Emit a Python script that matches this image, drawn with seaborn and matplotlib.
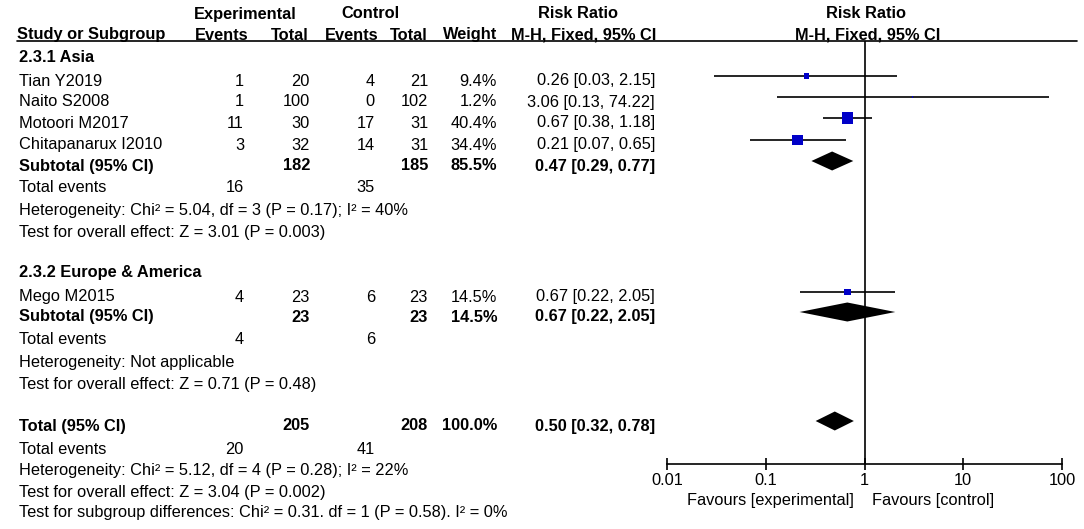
import numpy as np
import pandas as pd
import matplotlib
matplotlib.use('Agg')
import matplotlib.pyplot as plt
import seaborn as sns

# Study level data
studies = ['Tian Y2019', 'Naito S2008', 'Motoori M2017', 'Chitapanarux I2010', 'Mego M2015']
exp_events = [1, 1, 11, 3, 4]
exp_total = [20, 100, 30, 32, 23]
ctrl_events = [4, 0, 17, 14, 6]
ctrl_total = [21, 102, 31, 31, 23]
weight = [9.4, 1.2, 40.4, 34.4, 14.5]
rr = [0.26, 3.06, 0.67, 0.21, 0.67]
rr_lo = [0.03, 0.13, 0.38, 0.07, 0.22]
rr_hi = [2.15, 74.22, 1.18, 0.65, 2.05]

# Pooled results: Asia subtotal, Europe & America subtotal, overall total
subgroup_titles = ['2.3.1 Asia', '2.3.2 Europe & America']
pool_names = ['Subtotal (95% CI)', 'Subtotal (95% CI)', 'Total (95% CI)']
pool_exp_total = [182, 23, 205]
pool_ctrl_total = [185, 23, 208]
pool_weight = [85.5, 14.5, 100.0]
pool_rr = [0.47, 0.67, 0.50]
pool_lo = [0.29, 0.22, 0.32]
pool_hi = [0.77, 2.05, 0.78]
pool_exp_events = [16, 4, 20]
pool_ctrl_events = [35, 6, 41]
heterogeneity = ['Heterogeneity: Chi² = 5.04, df = 3 (P = 0.17); I² = 40%',
                 'Heterogeneity: Not applicable',
                 'Heterogeneity: Chi² = 5.12, df = 4 (P = 0.28); I² = 22%']
overall_effect = ['Test for overall effect: Z = 3.01 (P = 0.003)',
                  'Test for overall effect: Z = 0.71 (P = 0.48)',
                  'Test for overall effect: Z = 3.04 (P = 0.002)']
subgroup_test = 'Test for subgroup differences: Chi² = 0.31. df = 1 (P = 0.58). I² = 0%'

axis_ticks = [0.01, 0.1, 1, 10, 100]
axis_labels = ['0.01', '0.1', '1', '10', '100']

# Row layout (pixel rows of the table)
title_y = [57, 273]
study_y = [81, 102, 123, 145, 297]
pool_y = [166, 317, 426]
events_y = [188, 340, 449]
het_y = [211, 363, 471]
eff_y = [232, 384, 492]
subgroup_y = 513
mark_shift = 5

# Column x positions (right edge of each column)
x_name = 19
x_exp_e, x_exp_t, x_ctl_e, x_ctl_t, x_w, x_rr = 244, 310, 375, 428, 497, 655

sns.set_theme(style='white')
plt.rcParams['font.family'] = ['Liberation Sans', 'DejaVu Sans']
fs = 11.8

fig = plt.figure(figsize=(10.84, 5.29), dpi=100)
bg = fig.add_axes([0, 0, 1, 1])
bg.set_xlim(0, 1084)
bg.set_ylim(529, 0)
bg.axis('off')


def txt(x, y, s, ha='left', bold=False):
    bg.text(x, y, s, ha=ha, va='center', fontsize=fs, color='black',
            fontweight='bold' if bold else 'normal')


# Headers
txt(245, 14, 'Experimental', ha='center', bold=True)
txt(370, 14, 'Control', ha='center', bold=True)
txt(578, 14, 'Risk Ratio', ha='center', bold=True)
txt(866, 14, 'Risk Ratio', ha='center', bold=True)
txt(17, 35, 'Study or Subgroup', bold=True)
txt(248, 35, 'Events', ha='right', bold=True)
txt(309, 35, 'Total', ha='right', bold=True)
txt(378, 35, 'Events', ha='right', bold=True)
txt(428, 35, 'Total', ha='right', bold=True)
txt(497, 35, 'Weight', ha='right', bold=True)
txt(656, 35, 'M-H, Fixed, 95% CI', ha='right', bold=True)
txt(868, 35, 'M-H, Fixed, 95% CI', ha='center', bold=True)
bg.plot([17, 1077], [41, 41], color='black', lw=1.2)

# Subgroup titles
for t, y in zip(subgroup_titles, title_y):
    txt(x_name, y, t, bold=True)

# Study rows
for i, name in enumerate(studies):
    y = study_y[i]
    txt(x_name, y, name)
    txt(x_exp_e, y, str(exp_events[i]), ha='right')
    txt(x_exp_t, y, str(exp_total[i]), ha='right')
    txt(x_ctl_e, y, str(ctrl_events[i]), ha='right')
    txt(x_ctl_t, y, str(ctrl_total[i]), ha='right')
    txt(x_w, y, '%.1f%%' % weight[i], ha='right')
    txt(x_rr, y, '%.2f [%.2f, %.2f]' % (rr[i], rr_lo[i], rr_hi[i]), ha='right')

# Pooled rows
for i, name in enumerate(pool_names):
    y = pool_y[i]
    txt(x_name, y, name, bold=True)
    txt(x_exp_t, y, str(pool_exp_total[i]), ha='right', bold=True)
    txt(x_ctl_t, y, str(pool_ctrl_total[i]), ha='right', bold=True)
    txt(x_w, y, '%.1f%%' % pool_weight[i], ha='right', bold=True)
    txt(x_rr, y, '%.2f [%.2f, %.2f]' % (pool_rr[i], pool_lo[i], pool_hi[i]), ha='right', bold=True)
    txt(x_name, events_y[i], 'Total events')
    txt(x_exp_e, events_y[i], str(pool_exp_events[i]), ha='right')
    txt(x_ctl_e, events_y[i], str(pool_ctrl_events[i]), ha='right')
    txt(x_name, het_y[i], heterogeneity[i])
    txt(x_name, eff_y[i], overall_effect[i])
txt(x_name, subgroup_y, subgroup_test)

# Forest plot panel
ax = fig.add_axes([667 / 1084, 65 / 529, 395 / 1084, 423 / 529])
ax.patch.set_visible(False)
ax.set_xscale('log')
ax.set_xlim(0.01, 100)
ax.set_ylim(464, 41)

ys = [y - mark_shift for y in study_y]
ax.hlines(ys, rr_lo, rr_hi, color='black', lw=1.2, zorder=2)
df = pd.DataFrame({'rr': rr, 'y': ys, 'weight': weight})
k = 1.6  # marker area (pt^2) per percent weight
sns.scatterplot(data=df, x='rr', y='y', size='weight',
                sizes=(k * min(weight), k * max(weight)),
                marker='s', color='#0000C8', edgecolor='none',
                legend=False, ax=ax, zorder=3)

# Diamonds for pooled estimates
dh = 19
for i in range(len(pool_rr)):
    y = pool_y[i] - mark_shift
    ax.fill([pool_lo[i], pool_rr[i], pool_hi[i], pool_rr[i]],
            [y, y - dh / 2, y, y + dh / 2], color='black', lw=0, zorder=3)

ax.axvline(1, color='black', lw=1.2, zorder=1)

for s in ['top', 'right', 'left']:
    ax.spines[s].set_visible(False)
ax.spines['bottom'].set_color('black')
ax.spines['bottom'].set_linewidth(1.2)
ax.set_xticks(axis_ticks)
ax.set_xticklabels(axis_labels)
ax.minorticks_off()
ax.set_yticks([])
ax.tick_params(axis='x', direction='inout', length=9, width=1.2,
               colors='black', labelsize=fs, pad=2, bottom=True)
ax.set_xlabel('')
ax.set_ylabel('')

txt(854, 501, 'Favours [experimental]', ha='right')
txt(872, 501, 'Favours [control]', ha='left')

fig.savefig('out.png', dpi=100)
